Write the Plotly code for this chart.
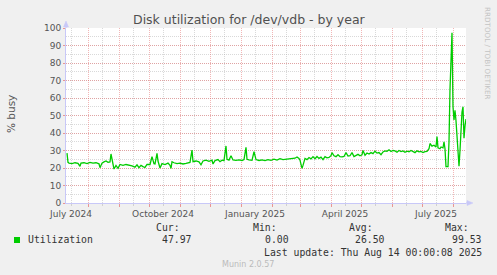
import pandas as pd
import plotly.graph_objects as go

# ---------------- data ----------------
start_date = "2024-07-10"
end_date = "2025-08-14"

day_offsets = [1, 2, 3, 6, 9, 12, 14, 15, 18, 21, 24, 27, 30, 33, 34, 36, 38, 40, 42, 44, 45, 47, 48, 50, 52,
               54, 57, 60, 63, 66, 69, 71, 73, 75, 77, 79, 81, 84, 86, 88, 89, 91, 92, 94, 96, 99, 102, 104,
               105, 106, 108, 111, 114, 117, 120, 122, 124, 126, 127, 130, 133, 135, 137, 140, 143, 146, 147,
               149, 152, 154, 156, 158, 160, 161, 163, 165, 167, 170, 173, 176, 178, 180, 181, 183, 186, 188,
               190, 193, 196, 199, 202, 205, 208, 211, 214, 217, 220, 223, 226, 229, 231, 233, 234, 236, 237,
               239, 241, 243, 245, 247, 249, 251, 253, 255, 257, 259, 261, 263, 265, 266, 268, 270, 272, 274,
               276, 278, 280, 282, 284, 286, 288, 290, 292, 294, 296, 297, 299, 301, 303, 305, 307, 309, 311,
               313, 315, 317, 319, 321, 323, 325, 327, 329, 331, 333, 335, 337, 339, 341, 343, 345, 347, 349,
               351, 353, 355, 357, 359, 361, 363, 364, 366, 368, 370, 371, 372, 374, 375, 377, 378, 379, 380,
               382, 383, 384, 386, 387, 388, 389, 390, 391, 393, 394, 395, 396, 397, 398, 399, 400]

utilization = [28.5, 23.2, 22.8, 22.5, 23.0, 22.6, 21.0, 22.8, 23.0, 22.5, 23.2, 22.8, 23.0, 22.4, 20.2, 22.8,
               23.5, 24.0, 23.2, 23.5, 28.0, 21.0, 19.4, 21.5, 19.8, 22.0, 21.5, 22.0, 21.8, 21.2, 20.5, 21.8,
               20.2, 21.5, 20.8, 20.3, 22.0, 22.0, 26.5, 22.5, 22.3, 28.4, 24.0, 20.0, 22.5, 22.0, 22.8, 21.5,
               19.8, 23.6, 23.0, 22.5, 22.8, 22.3, 22.6, 23.0, 23.2, 30.3, 23.6, 24.0, 23.5, 21.8, 24.0, 24.5,
               23.8, 24.5, 22.3, 24.2, 24.8, 23.6, 24.5, 24.2, 32.6, 25.0, 24.5, 27.0, 24.6, 24.4, 24.6, 24.3,
               24.8, 31.8, 25.0, 24.6, 24.4, 29.3, 24.8, 24.3, 24.6, 24.2, 24.8, 24.4, 25.0, 24.5, 25.3, 24.8,
               25.0, 25.4, 25.2, 25.6, 26.3, 25.5, 24.5, 19.8, 21.5, 25.5, 24.8, 26.0, 25.2, 26.5, 25.3, 26.6,
               25.5, 26.2, 24.8, 26.5, 25.8, 26.0, 27.0, 28.8, 27.0, 26.5, 27.6, 26.5, 26.4, 26.6, 28.8, 26.8,
               27.0, 28.8, 26.5, 27.2, 27.8, 27.0, 27.5, 30.0, 27.3, 28.6, 28.0, 28.8, 28.2, 29.6, 28.5, 28.8,
               27.6, 29.2, 29.8, 29.5, 30.4, 29.4, 30.0, 29.8, 29.0, 30.0, 29.4, 29.8, 29.0, 29.6, 29.2, 30.0,
               29.3, 28.8, 29.8, 29.2, 29.5, 28.8, 29.4, 29.5, 31.0, 34.0, 32.5, 33.0, 32.0, 37.9, 31.5, 31.0,
               32.0, 31.5, 35.0, 31.0, 20.8, 20.8, 35.0, 65.0, 97.3, 55.0, 47.4, 53.0, 47.0, 37.0, 21.0, 30.0,
               42.0, 52.0, 55.0, 37.0, 44.0, 47.97]

tick_labels = ["July 2024", "October 2024", "January 2025", "April 2025", "July 2025"]
tick_label_dates = ["2024-07-15", "2024-10-15", "2025-01-15", "2025-04-15", "2025-07-15"]
y_ticks = [0, 10, 20, 30, 40, 50, 60, 70, 80, 90, 100]

series_name = "Utilization"
stat_names = ["Cur:", "Min:", "Avg:", "Max:"]
stat_values = [47.97, 0.00, 26.50, 99.53]
last_update = "Last update: Thu Aug 14 00:00:08 2025"

# ---------------- geometry helpers ----------------
W, H = 497, 275
L, R, T, B = 66, 31, 28, 72
PW, PH = W - L - R, H - T - B


def px(x):
    return (x - L) / PW


def py(y):
    return (T + PH - y) / PH


dates = (pd.Timestamp(start_date) + pd.to_timedelta(day_offsets, unit="D")).strftime("%Y-%m-%d").tolist()
month_starts = pd.date_range("2024-08-01", "2025-08-01", freq="MS")
mid_months = (pd.date_range("2024-07-01", "2025-08-01", freq="MS") + pd.Timedelta(days=14))
month_starts = [d.strftime("%Y-%m-%d") for d in month_starts]
mid_months = [d.strftime("%Y-%m-%d") for d in mid_months if d <= pd.Timestamp(end_date)]

GREEN = "#00CC00"
RED_GRID = "rgba(230,110,110,0.5)"
GRAY_GRID = "rgba(170,170,170,0.45)"
AXIS = "#C8C8F8"
TXT = "#555555"
MONO = "DejaVu Sans Mono"
SANS = "DejaVu Sans"

fig = go.Figure()
fig.add_trace(go.Scatter(x=dates, y=utilization, mode="lines", line=dict(color=GREEN, width=1.3),
                         xaxis="x", yaxis="y", showlegend=False, hoverinfo="skip"))
fig.add_trace(go.Scatter(x=dates, y=utilization, mode="lines", line=dict(color="rgba(0,0,0,0)", width=0),
                         xaxis="x2", yaxis="y", showlegend=False, hoverinfo="skip"))

fig.update_layout(
    width=W, height=H, autosize=False,
    margin=dict(l=L, r=R, t=T, b=B, pad=0),
    paper_bgcolor="#F0F0F0", plot_bgcolor="#FFFFFF",
    showlegend=False,
    xaxis=dict(type="date", range=[start_date, end_date], tickvals=month_starts, showticklabels=False,
               ticks="outside", ticklen=3, tickcolor="rgba(230,110,110,0.7)", tickwidth=1,
               showgrid=True, gridcolor=RED_GRID, griddash="1px,1px", gridwidth=1,
               showline=True, linecolor=AXIS, linewidth=1, zeroline=False, layer="below traces",
               minor=dict(tickvals=mid_months, showgrid=True, gridcolor=GRAY_GRID, griddash="1px,1px",
                          ticks="outside", ticklen=2, tickcolor="#D0D0D0")),
    xaxis2=dict(type="date", overlaying="x", matches="x", anchor="y", side="bottom",
                range=[start_date, end_date], tickvals=tick_label_dates, ticktext=tick_labels,
                showgrid=False, ticks="", showline=False, zeroline=False, ticklabelstandoff=4,
                tickfont=dict(family=SANS, size=9, color=TXT)),
    yaxis=dict(range=[0, 100], tickvals=y_ticks, ticks="outside", ticklen=2, tickcolor="rgba(230,110,110,0.7)",
               showgrid=True, gridcolor=RED_GRID, griddash="1px,1px", gridwidth=1,
               showline=True, linecolor=AXIS, linewidth=1, zeroline=False,
               tickfont=dict(family=SANS, size=9, color=TXT),
               minor=dict(dtick=5, showgrid=True, gridcolor=GRAY_GRID, griddash="1px,1px")),
)

# axis arrows
fig.add_shape(type="path", xref="paper", yref="paper",
              path=f"M {px(66)} {py(21)} L {px(63.5)} {py(27)} L {px(68.5)} {py(27)} Z",
              fillcolor=AXIS, line=dict(color=AXIS, width=0.5))
fig.add_shape(type="line", xref="paper", yref="paper", x0=px(66), x1=px(66), y0=py(28), y1=py(26),
              line=dict(color=AXIS, width=1))
fig.add_shape(type="path", xref="paper", yref="paper",
              path=f"M {px(473)} {py(203)} L {px(467)} {py(200.5)} L {px(467)} {py(205.5)} Z",
              fillcolor=AXIS, line=dict(color=AXIS, width=0.5))
fig.add_shape(type="line", xref="paper", yref="paper", x0=px(466), x1=px(468), y0=py(203), y1=py(203),
              line=dict(color=AXIS, width=1))

# legend swatch
fig.add_shape(type="rect", xref="paper", yref="paper", x0=px(14), x1=px(20), y0=py(243), y1=py(237),
              fillcolor=GREEN, line=dict(width=0))


def ann(text, x, y, size, color, family=SANS, xanchor="center", yanchor="middle", angle=0):
    fig.add_annotation(text=text, x=px(x), y=py(y), xref="paper", yref="paper", showarrow=False,
                       xanchor=xanchor, yanchor=yanchor, textangle=angle,
                       font=dict(family=family, size=size, color=color))


ann("Disk utilization for /dev/vdb - by year", 249, 19.5, 12.5, "#505050")
ann("% busy", 11, 114, 10.5, TXT, angle=-90)
ann("RRDTOOL / TOBI OETIKER", 488, 53, 7.2, "#C4C4C4", angle=90)

ann(series_name, 26, 239.5, 9.8, "#333333", family=MONO, xanchor="left")
stat_label_right = [182, 279, 375, 471]
stat_value_right = [194, 291, 387, 484]
for name, val, xl, xv in zip(stat_names, stat_values, stat_label_right, stat_value_right):
    ann(name, xl, 227.5, 9.8, "#333333", family=MONO, xanchor="right")
    ann(f"{val:.2f}", xv, 239.5, 9.8, "#333333", family=MONO, xanchor="right")
ann(last_update, 484, 252, 9.8, "#333333", family=MONO, xanchor="right")
ann("Munin 2.0.57", 248, 264, 8, "#BBBBBB")

fig.write_html("out.html")
